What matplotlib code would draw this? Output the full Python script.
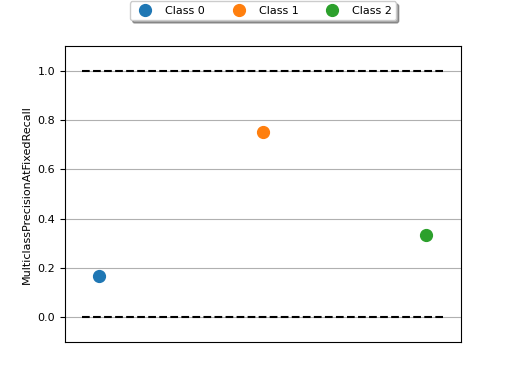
import matplotlib
matplotlib.use("Agg")
import matplotlib.pyplot as plt

classes = ["Class 0", "Class 1", "Class 2"]
values = [0.1667, 0.75, 0.3333]
colors = ["#1f77b4", "#ff7f0e", "#2ca02c"]
ylabel = "MulticlassPrecisionAtFixedRecall"
bounds = [0.0, 1.0]

fig = plt.figure(figsize=(5.12, 3.84), dpi=100)
ax = fig.add_axes([0.127, 0.109, 0.773, 0.771])
for i, (c, v, col) in enumerate(zip(classes, values, colors)):
    ax.plot(i, v, marker="o", markersize=8.5, linestyle="None", color=col, label=c)
for b in bounds:
    ax.hlines(b, -0.1, len(values) - 0.9, linestyles="dashed", colors="k")
ax.set_xlim(-0.205, 2.21)
ax.set_ylim(-0.1, 1.1)
ax.set_xticks([])
ax.set_yticks([0.0, 0.2, 0.4, 0.6, 0.8, 1.0])
ax.tick_params(labelsize=8)
ax.yaxis.grid(True, color="#b0b0b0", linewidth=0.8)
ax.set_axisbelow(True)
ax.set_ylabel(ylabel, fontsize=8)
ax.legend(loc="upper center", bbox_to_anchor=(0.5, 1.17), ncol=3, fancybox=True,
          shadow=True, fontsize=8)
fig.savefig("out.png", dpi=100)
